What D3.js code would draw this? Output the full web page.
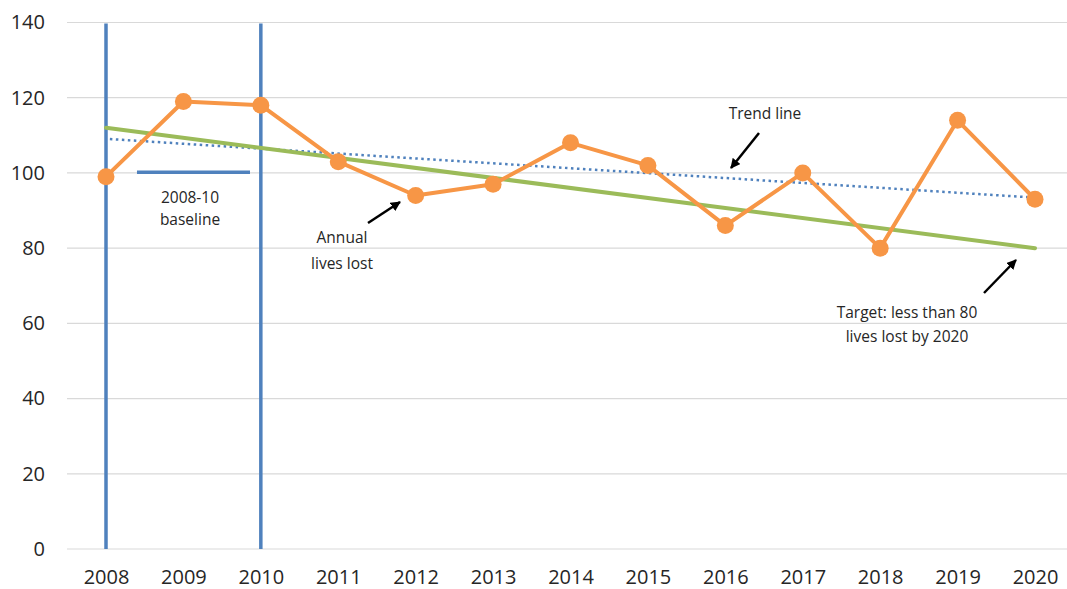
<!DOCTYPE html>
<html>
<head>
<meta charset="utf-8">
<script src="https://cdn.jsdelivr.net/npm/d3@7"></script>
<style>
  body { margin: 0; background: #fff; }
  svg { display: block; font-family: "Open Sans", sans-serif; }
</style>
</head>
<body>
<div id="chart"></div>
<script>
// data
const years = [2008, 2009, 2010, 2011, 2012, 2013, 2014, 2015, 2016, 2017, 2018, 2019, 2020];
const livesLost = [99, 119, 118, 103, 94, 97, 108, 102, 86, 100, 80, 114, 93];
const yTicks = [0, 20, 40, 60, 80, 100, 120, 140];

// target line (green) and trend line (blue dotted), endpoints only
const targetLine = [[2008, 112], [2020, 80]];
const trendLine = [[2008.05, 109], [2019.95, 93.5]];
const baselineYears = [2008, 2010];
const baselineBar = [[2008.4, 100.2], [2009.86, 100.2]];

const width = 1067, height = 589;
const margin = {top: 22, right: 0, bottom: 40, left: 67};

const svg = d3.select("#chart").append("svg")
    .attr("width", width)
    .attr("height", height);

const x = d3.scaleLinear()
    .domain([2008, 2020])
    .range([106, 1035]);

const y = d3.scaleLinear()
    .domain([0, 140])
    .range([549, 22.5]);

// gridlines
svg.append("g")
  .selectAll("line")
  .data(yTicks)
  .join("line")
    .attr("x1", margin.left)
    .attr("x2", width)
    .attr("y1", d => y(d))
    .attr("y2", d => y(d))
    .attr("stroke", "#d9d9d9")
    .attr("stroke-width", 1.2);

// y axis labels
const yAxis = d3.axisLeft(y).tickValues(yTicks).tickSize(0).tickPadding(0);
svg.append("g")
    .attr("transform", "translate(45,0)")
    .call(yAxis)
    .call(g => g.select(".domain").remove())
    .selectAll("text")
    .attr("font-size", 20)
    .attr("fill", "#262626")
    .attr("font-family", "'Open Sans', sans-serif");

// x axis labels
const xAxis = d3.axisBottom(x).tickValues(years).tickFormat(d3.format("d")).tickSize(0).tickPadding(0);
svg.append("g")
    .attr("transform", "translate(0,570)")
    .call(xAxis)
    .call(g => g.select(".domain").remove())
    .selectAll("text")
    .attr("font-size", 20)
    .attr("fill", "#262626")
    .attr("font-family", "'Open Sans', sans-serif");

const line = d3.line().x(d => x(d[0])).y(d => y(d[1]));

// baseline verticals
svg.append("g")
  .selectAll("line")
  .data(baselineYears)
  .join("line")
    .attr("x1", d => x(d))
    .attr("x2", d => x(d))
    .attr("y1", y(140) + 1)
    .attr("y2", y(0))
    .attr("stroke", "#4f81bd")
    .attr("stroke-width", 3.5);

svg.append("path")
    .attr("d", line(baselineBar))
    .attr("stroke", "#4f81bd")
    .attr("stroke-width", 3.5)
    .attr("fill", "none");

// trend line
svg.append("path")
    .attr("d", line(trendLine))
    .attr("stroke", "#4f81bd")
    .attr("stroke-width", 2.5)
    .attr("stroke-dasharray", "2.5,3.5")
    .attr("fill", "none");

// target line
svg.append("path")
    .attr("d", line(targetLine))
    .attr("stroke", "#9bbb59")
    .attr("stroke-width", 4)
    .attr("stroke-linecap", "round")
    .attr("fill", "none");

// annual series
const series = years.map((yr, i) => [yr, livesLost[i]]);
svg.append("path")
    .attr("d", line(series))
    .attr("stroke", "#f79646")
    .attr("stroke-width", 4)
    .attr("stroke-linejoin", "round")
    .attr("fill", "none");

svg.append("g")
  .selectAll("circle")
  .data(series)
  .join("circle")
    .attr("cx", d => x(d[0]))
    .attr("cy", d => y(d[1]))
    .attr("r", 8.5)
    .attr("fill", "#f79646");

// annotations
svg.append("defs").append("marker")
    .attr("id", "arrow")
    .attr("viewBox", "0 0 10 10")
    .attr("refX", 9)
    .attr("refY", 5)
    .attr("markerWidth", 4)
    .attr("markerHeight", 4)
    .attr("orient", "auto")
  .append("path")
    .attr("d", "M0,0L10,5L0,10z")
    .attr("fill", "#000");

const arrows = [
  [368, 223, 400, 202],
  [759, 133, 731, 168],
  [984, 293, 1016, 260]
];
svg.append("g")
  .selectAll("line")
  .data(arrows)
  .join("line")
    .attr("x1", d => d[0])
    .attr("y1", d => d[1])
    .attr("x2", d => d[2])
    .attr("y2", d => d[3])
    .attr("stroke", "#000")
    .attr("stroke-width", 2.5)
    .attr("marker-end", "url(#arrow)");

const notes = [
  ["2008-10", 190, 203],
  ["baseline", 190, 225],
  ["Annual", 342, 243],
  ["lives lost", 342, 269],
  ["Trend line", 765, 119],
  ["Target: less than 80", 907, 318],
  ["lives lost by 2020", 907, 342]
];
svg.append("g")
  .selectAll("text")
  .data(notes)
  .join("text")
    .attr("x", d => d[1])
    .attr("y", d => d[2])
    .attr("text-anchor", "middle")
    .attr("font-size", 15.5)
    .attr("fill", "#262626")
    .text(d => d[0]);
</script>
</body>
</html>
